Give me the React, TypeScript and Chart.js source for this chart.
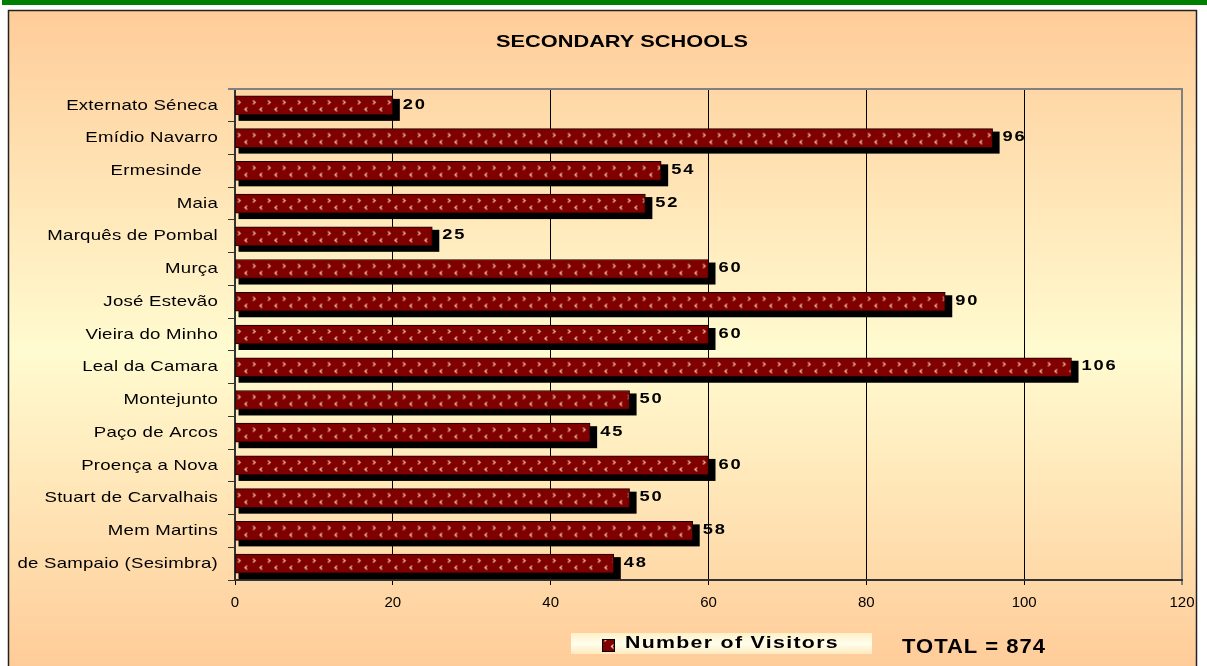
import React, { useEffect, useRef } from 'react';
import { Chart, registerables, CategoryScale } from 'chart.js';

Chart.register(...registerables);

// ---------- data ----------
const chartTitle = 'SECONDARY SCHOOLS';
const seriesLabel = 'Number of Visitors';
const categories = [
  'Externato Séneca',
  'Emídio Navarro',
  'Ermesinde   ',
  'Maia',
  'Marquês de Pombal',
  'Murça',
  'José Estevão',
  'Vieira do Minho',
  'Leal da Camara',
  'Montejunto',
  'Paço de Arcos',
  'Proença a Nova',
  'Stuart de Carvalhais',
  'Mem Martins',
  'de Sampaio (Sesimbra)',
];
const visitors = [20, 96, 54, 52, 25, 60, 90, 60, 106, 50, 45, 60, 50, 58, 48];
const xMin = 0;
const xMax = 120;
const xStep = 20;
const totalText = 'TOTAL = ' + visitors.reduce((a, b) => a + b, 0);

const FONT = "'Liberation Sans', Arial, Helvetica, sans-serif";
const Y_LABEL_RIGHT = 218; // 235 - tickLength 7 - padding 10

class StretchedCategoryScale extends CategoryScale {
  static id = 'stretchedCategory';
  static defaults = CategoryScale.defaults;
  drawLabels(area: any) {
    const ctx: any = this.ctx;
    ctx.save();
    ctx.translate(Y_LABEL_RIGHT, 0);
    ctx.scale(1.24, 1);
    ctx.translate(-Y_LABEL_RIGHT, 0);
    ctx.letterSpacing = '0.2px';
    super.drawLabels(area);
    ctx.restore();
  }
}
Chart.register(StretchedCategoryScale as any);

function makePattern(ctx: CanvasRenderingContext2D) {
  const c = document.createElement('canvas');
  c.width = 15;
  c.height = 19;
  const p = c.getContext('2d')!;
  p.strokeStyle = '#E8B298';
  p.lineWidth = 1.3;
  p.beginPath();
  p.moveTo(2.5, 4.5);
  p.lineTo(4.5, 6.5);
  p.lineTo(2.5, 8.5);
  p.stroke();
  p.beginPath();
  p.moveTo(11.5, 11.5);
  p.lineTo(9.5, 13.5);
  p.lineTo(11.5, 15.5);
  p.stroke();
  p.fillStyle = '#FFF2E4';
  p.fillRect(4, 6, 1, 1);
  p.fillRect(9.5, 13, 1, 1);
  return ctx.createPattern(c, 'repeat');
}

function stretchedText(ctx: any, text: string, x: number, y: number, font: string, sx: number, ls: string) {
  ctx.save();
  ctx.translate(x, y);
  ctx.scale(sx, 1);
  ctx.letterSpacing = ls;
  ctx.font = font;
  ctx.fillStyle = '#000';
  ctx.textAlign = 'left';
  ctx.textBaseline = 'middle';
  ctx.fillText(text, 0, 0);
  ctx.restore();
}

export default function App() {
  const ref = useRef<HTMLCanvasElement>(null);

  useEffect(() => {
    const canvas = ref.current!;
    const ctx0 = canvas.getContext('2d')!;
    const pattern = makePattern(ctx0);

    const framePlugin = {
      id: 'frame',
      beforeDraw(chart: any) {
        const { ctx, width, height } = chart;
        ctx.save();
        ctx.fillStyle = '#ffffff';
        ctx.fillRect(0, 0, width, height);
        ctx.fillStyle = '#008000';
        ctx.fillRect(2, 0, width - 2, 5);
        const g = ctx.createLinearGradient(0, 10, 0, 666);
        g.addColorStop(0, '#FFCC99');
        g.addColorStop(0.52, '#FFFBD0');
        g.addColorStop(1, '#FFCC99');
        ctx.fillStyle = g;
        ctx.fillRect(8, 10, 1189, height);
        ctx.strokeStyle = '#222';
        ctx.lineWidth = 1.5;
        ctx.strokeRect(8.5, 10.5, 1188, height + 20);
        ctx.restore();
      },
      beforeDatasetsDraw(chart: any) {
        const { ctx, chartArea } = chart;
        ctx.save();
        ctx.strokeStyle = '#808080';
        ctx.lineWidth = 2;
        ctx.beginPath();
        ctx.moveTo(chartArea.left - 7, chartArea.top);
        ctx.lineTo(chartArea.right + 1, chartArea.top);
        ctx.stroke();
        // shadows
        const meta = chart.getDatasetMeta(0);
        ctx.fillStyle = '#000';
        meta.data.forEach((el: any) => {
          const { x, y, base, height } = el.getProps(['x', 'y', 'base', 'height'], true);
          const top = y - height / 2;
          ctx.fillRect(base + 3, top + 3, x - base + 4, height + 3);
        });
        ctx.restore();
      },
      afterDatasetsDraw(chart: any) {
        const { ctx } = chart;
        const meta = chart.getDatasetMeta(0);
        ctx.save();
        meta.data.forEach((el: any, i: number) => {
          const { x, y, base, height } = el.getProps(['x', 'y', 'base', 'height'], true);
          const top = y - height / 2;
          ctx.save();
          ctx.beginPath();
          ctx.rect(base + 1, top + 1, x - base - 2, height - 2);
          ctx.clip();
          ctx.translate(base, top);
          ctx.fillStyle = pattern;
          ctx.fillRect(0, 0, x - base, height);
          ctx.restore();
          // value label
          stretchedText(ctx, String(chart.data.datasets[0].data[i]), x + 10, y - 1, `bold 15px ${FONT}`, 1.22, '1.5px');
        });
        ctx.restore();
      },
      afterDraw(chart: any) {
        const { ctx } = chart;
        ctx.save();
        // title
        ctx.save();
        ctx.translate(622, 42);
        ctx.scale(1.28, 1);
        ctx.font = `bold 17px ${FONT}`;
        ctx.fillStyle = '#000';
        ctx.textAlign = 'center';
        ctx.textBaseline = 'middle';
        ctx.fillText(chartTitle, 0, 0);
        ctx.restore();
        // legend box
        const lg = ctx.createLinearGradient(0, 633, 0, 654);
        lg.addColorStop(0, '#FFEFC8');
        lg.addColorStop(0.5, '#FFFFEC');
        lg.addColorStop(1, '#FFE9C0');
        ctx.fillStyle = lg;
        ctx.fillRect(571, 633, 301, 21);
        // legend symbol
        ctx.fillStyle = '#800000';
        ctx.fillRect(602, 639, 13, 13);
        ctx.save();
        ctx.beginPath();
        ctx.rect(603, 640, 11, 11);
        ctx.clip();
        ctx.translate(602, 633);
        ctx.fillStyle = pattern;
        ctx.fillRect(0, 0, 15, 19);
        ctx.restore();
        ctx.strokeStyle = '#000';
        ctx.lineWidth = 1;
        ctx.strokeRect(602.5, 639.5, 12, 12);
        // legend text
        stretchedText(ctx, chart.data.datasets[0].label, 625, 644, `bold 16px ${FONT}`, 1.33, '1px');
        // total
        stretchedText(ctx, totalText, 902, 647, `bold 20px ${FONT}`, 1.1, '0.9px');
        ctx.restore();
      },
    };

    const chart = new Chart(canvas, {
      type: 'bar',
      data: {
        labels: categories,
        datasets: [
          {
            label: seriesLabel,
            data: visitors,
            backgroundColor: '#800000',
            borderColor: '#1a0000',
            borderWidth: 1,
            borderSkipped: false,
            barThickness: 19,
          },
        ],
      },
      options: {
        indexAxis: 'y',
        responsive: false,
        animation: false,
        devicePixelRatio: 1,
        layout: { padding: { top: 89, right: 25, bottom: 0, left: 0 } },
        plugins: {
          legend: { display: false },
          title: { display: false },
          tooltip: { enabled: false },
        },
        scales: {
          x: {
            type: 'linear',
            min: xMin,
            max: xMax,
            ticks: {
              stepSize: xStep,
              color: '#000',
              font: { family: FONT, size: 15 },
              padding: 9,
              maxRotation: 0,
            },
            grid: {
              color: (c: any) => (c.tick && c.tick.value === xMax ? '#808080' : '#000'),
              lineWidth: (c: any) => (c.tick && c.tick.value === xMax ? 2 : 1),
              tickLength: 5,
            },
            border: { color: '#333', width: 2 },
            afterFit: (s: any) => {
              s.height = 86;
            },
          },
          y: {
            type: 'stretchedCategory' as any,
            ticks: {
              color: '#000',
              font: { family: FONT, size: 15 },
              padding: 10,
              autoSkip: false,
            },
            grid: {
              drawOnChartArea: false,
              offset: true,
              tickLength: 7,
              color: '#333',
            },
            border: { color: '#333', width: 2 },
            afterFit: (s: any) => {
              s.width = 235;
            },
          },
        },
      } as any,
      plugins: [framePlugin],
    });

    return () => chart.destroy();
  }, []);

  return (
    <div style={{ position: 'fixed', left: 0, top: 0, width: 1207, height: 666 }}>
      <canvas ref={ref} width={1207} height={666} style={{ display: 'block', width: 1207, height: 666 }} />
    </div>
  );
}
